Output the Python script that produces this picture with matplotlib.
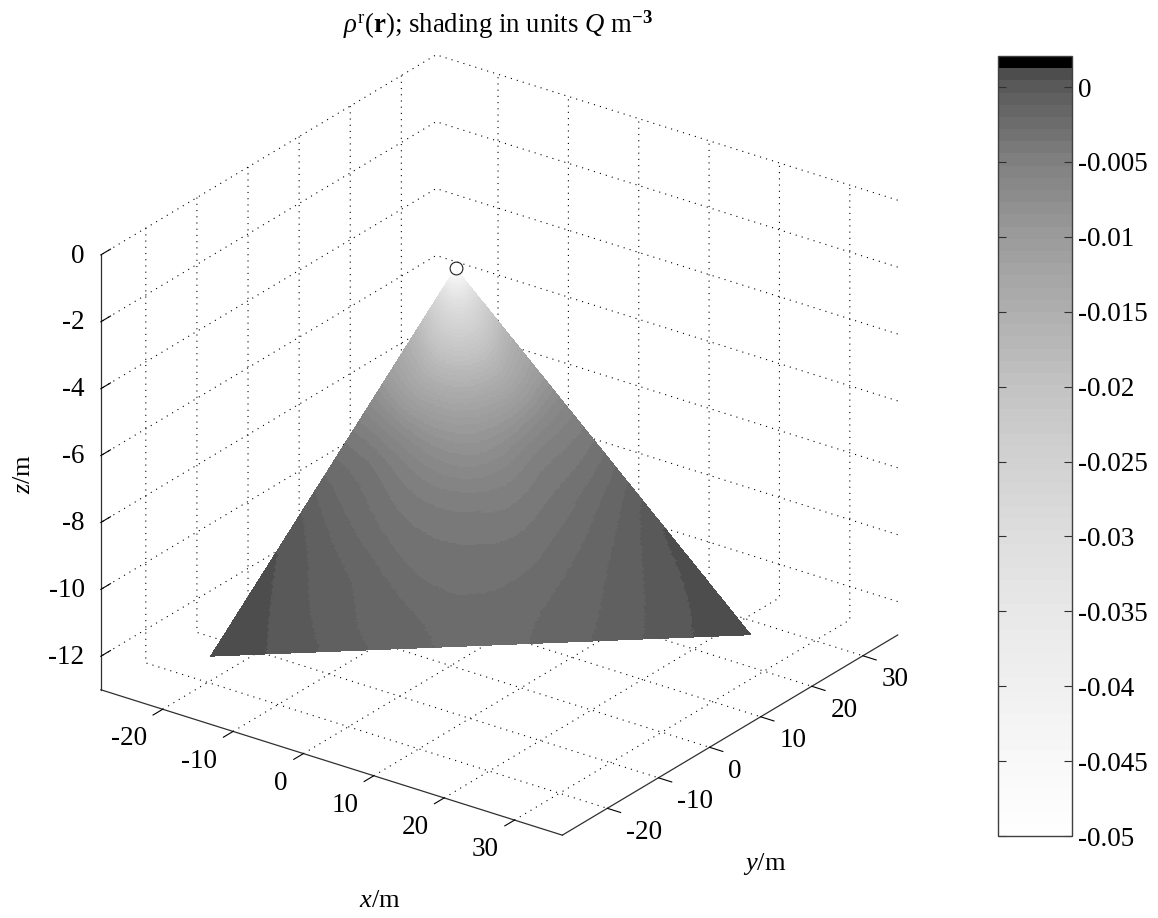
#!/usr/bin/env python3
import numpy as np
import matplotlib
matplotlib.use('Agg')
import matplotlib.pyplot as plt
import matplotlib.tri as mtri
from matplotlib.cm import ScalarMappable
from matplotlib.colors import ListedColormap, Normalize
from mpl_toolkits.mplot3d.art3d import Poly3DCollection

plt.rcParams['font.family'] = ['Liberation Serif', 'DejaVu Serif']
plt.rcParams['mathtext.fontset'] = 'custom'
plt.rcParams['mathtext.rm'] = 'Liberation Serif'
plt.rcParams['mathtext.it'] = 'Liberation Serif:italic'
plt.rcParams['mathtext.bf'] = 'Liberation Serif:bold'

# axis ranges and ticks
x_lim = (-28.8, 36.8)
y_lim = (-28.8, 36.8)
z_lim = (-13, 0)
xy_ticks = [-20, -10, 0, 10, 20, 30]
z_ticks = [0, -2, -4, -6, -8, -10, -12]

# triangle corners (x, y, z)
apex = [6.28, -7.69, 0.0]
corner_a = [-18.6, -21.35, -12.0]
corner_b = [28.3, 19.75, -12.0]

# shading: distance from apex to base / position across
row_u = [0.05, 0.12, 0.2, 0.3, 0.4, 0.5, 0.6, 0.7, 0.8, 0.9, 1.0]
col_v = [0, 0.125, 0.25, 0.375, 0.5, 0.625, 0.75, 0.875, 1]
apex_value = -0.05
rho_rows = [
    [-.0330, -.0345, -.0358, -.0367, -.0370, -.0367, -.0358, -.0345, -.0330],
    [-.0215, -.0238, -.0260, -.0275, -.0280, -.0275, -.0260, -.0238, -.0215],
    [-.0145, -.0170, -.0197, -.0213, -.0218, -.0213, -.0197, -.0170, -.0145],
    [-.0092, -.0115, -.0137, -.0151, -.0157, -.0151, -.0137, -.0115, -.0092],
    [-.0050, -.0066, -.0086, -.0101, -.0107, -.0101, -.0086, -.0066, -.0052],
    [-.0026, -.0036, -.0052, -.0068, -.0075, -.0068, -.0052, -.0042, -.0029],
    [-.0008, -.0023, -.0036, -.0047, -.0051, -.0048, -.0037, -.0025, -.0009],
    [.0003, -.0012, -.0026, -.0036, -.0039, -.00365, -.0026, -.00125, .00045],
    [.0007, -.0005, -.0016, -.0029, -.0031, -.0028, -.0017, -.0005, .0007],
    [.0008, -.00005, -.0012, -.0021, -.0027, -.0021, -.0012, -.00003, .00085],
    [.0009, .0003, -.00083, -.0017, -.0024, -.00172, -.00085, .0003, .0009],
]

# colour bar
cbar_ticks = [0, -0.005, -0.01, -0.015, -0.02, -0.025, -0.03, -0.035, -0.04, -0.045, -0.05]
cbar_labels = ['0', '-0.005', '-0.01', '-0.015', '-0.02', '-0.025', '-0.03', '-0.035', '-0.04', '-0.045', '-0.05']
cbar_top = 0.00207
gray_values = [-0.05, -0.045, -0.04, -0.035, -0.03, -0.025, -0.02, -0.015, -0.01, -0.005, 0, 0.0012]
gray_levels = [255, 248, 240, 232, 222, 210, 195, 175, 155, 128, 90, 72]


def make_cmap():
    edges = np.linspace(-0.05, cbar_top, 65)
    mids = (edges[:-1] + edges[1:]) / 2
    g = np.interp(mids, gray_values, gray_levels) / 255
    g[-1] = 0.0
    return ListedColormap(np.column_stack([g, g, g]))


def add_triangle(ax, cmap, norm):
    # s, t are the weights of the two base corners
    s = [0.0]
    t = [0.0]
    vals = [apex_value]
    for u, row in zip(row_u, rho_rows):
        for v, val in zip(col_v, row):
            s.append(u * (1 - v))
            t.append(u * v)
            vals.append(val)
    tri = mtri.Triangulation(np.array(s), np.array(t))
    fine, field = mtri.UniformTriRefiner(tri).refine_field(np.array(vals), subdiv=4)
    p0, pa, pb = np.array(apex), np.array(corner_a), np.array(corner_b)
    pts = p0 + np.outer(fine.x, pa - p0) + np.outer(fine.y, pb - p0)
    poly = Poly3DCollection(pts[fine.triangles], cmap=cmap, norm=norm, linewidths=0,
                            edgecolors='none', antialiased=False, zorder=2)
    poly.set_array(field[fine.triangles].mean(axis=1))
    ax.add_collection3d(poly, autolim=False)


def style_axes(ax):
    for axis in (ax.xaxis, ax.yaxis, ax.zaxis):
        axis.pane.set_visible(False)
        axis.line.set_color('#303030')
        axis.line.set_linewidth(0.9)
        axis._axinfo['grid'].update(color='black', linewidth=0.8, linestyle=(0, (1, 4.6)))
    lw = {True: 0.8, False: 0.8}
    ax.xaxis._axinfo['tick'].update(inward_factor=0.36, outward_factor=0.0, linewidth=lw)
    ax.yaxis._axinfo['tick'].update(inward_factor=0.36, outward_factor=0.0, linewidth=lw)
    ax.zaxis._axinfo['tick'].update(inward_factor=0.0, outward_factor=0.36, linewidth=lw)
    ax.tick_params(labelsize=19.5, colors='black', length=0)
    ax.xaxis.set_tick_params(pad=8)
    ax.yaxis.set_tick_params(pad=6)
    ax.zaxis.set_tick_params(pad=-1)
    for label in ax.xaxis.get_ticklabels():
        label.set_ha('right')
        label.set_va('center')
    for label in ax.yaxis.get_ticklabels():
        label.set_ha('left')
        label.set_va('center')
    for label in ax.zaxis.get_ticklabels():
        label.set_ha('right')
        label.set_va('center')


def main():
    fig = plt.figure(figsize=(11.58, 9.18), dpi=100)
    W, H = 1158.0, 918.0

    S = 912.6
    ax = fig.add_axes([30.6 / W, 4.4 / H, S / W, S / H], projection='3d', proj_type='ortho')
    ax.patch.set_visible(False)
    ax.view_init(elev=25.7, azim=-54)
    ax.set_box_aspect((571, 571, 483))
    ax.computed_zorder = False

    ax.set_xlim(*x_lim, view_margin=0)
    ax.set_ylim(*y_lim, view_margin=0)
    ax.set_zlim(*z_lim, view_margin=0)
    ax.set_xticks(xy_ticks)
    ax.set_yticks(xy_ticks)
    ax.set_zticks(z_ticks)
    ax.set_xticklabels([str(v) for v in xy_ticks])
    ax.set_yticklabels([str(v) for v in xy_ticks])
    ax.set_zticklabels([str(v) for v in z_ticks])
    style_axes(ax)
    ax.zaxis.set_ticks_position('lower')

    cmap = make_cmap()
    norm = Normalize(-0.05, cbar_top)
    add_triangle(ax, cmap, norm)
    ax.plot([apex[0]], [apex[1]], [apex[2]], 'o', ms=9.2, mfc='none', mec='#202020', mew=0.8, zorder=3)

    fig.text(343 / W, 1 - 33 / H, r'$\rho^{\mathrm{r}}(\mathbf{r})$; shading in units $Q$ m$^{\mathbf{-3}}$',
             ha='left', va='baseline', fontsize=19.3)
    fig.text(380 / W, 1 - 901 / H, r'$x$/m', ha='center', va='center', fontsize=19)
    fig.text(765 / W, 1 - 864 / H, r'$y$/m', ha='center', va='center', fontsize=19)
    fig.text(24 / W, 1 - 474 / H, r'$z$/m', ha='center', va='center', rotation=90, fontsize=19)

    cax = fig.add_axes([998 / W, 1 - 836 / H, 74 / W, 780 / H])
    cb = fig.colorbar(ScalarMappable(norm=norm, cmap=cmap), cax=cax, ticks=cbar_ticks)
    cb.set_ticklabels(cbar_labels)
    cb.outline.set_edgecolor('#404040')
    cb.outline.set_linewidth(1.0)
    cax.tick_params(axis='y', direction='in', left=True, right=True, length=6, width=0.8,
                    labelsize=19.5, pad=4, color='#303030')

    fig.savefig('out.png', dpi=100)


if __name__ == '__main__':
    main()
